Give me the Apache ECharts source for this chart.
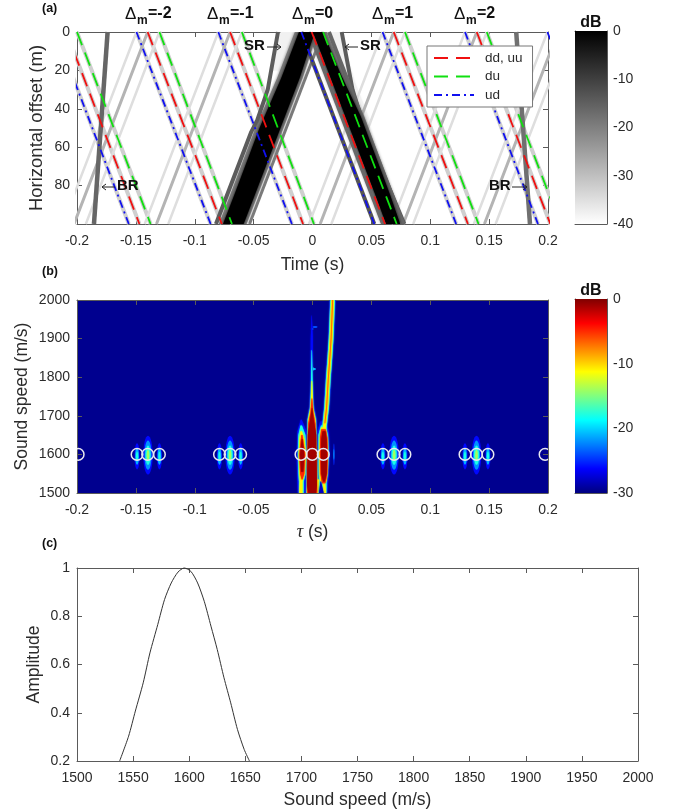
<!DOCTYPE html>
<html><head><meta charset="utf-8">
<style>html,body{margin:0;padding:0;background:#fff}#c{width:673px;height:810px}</style>
<script src="https://cdn.jsdelivr.net/npm/echarts@6/dist/echarts.min.js"></script>
</head><body><div id="c"></div>
<script>
// ---------- Panel (a): arrival lines, delay (s) at offset 0 m and at offset 100 m
const ddTop    = [-0.209,-0.14,-0.07,-0.0007,0.069,0.1395];
const ddBottom = [-0.147,-0.077,-0.008,0.0616,0.132,0.202];
const duTop    = [-0.2,-0.13,-0.06,0.009,0.0785,0.148];
const duBottom = [-0.1375,-0.0684,0.0012,0.0715,0.141,0.2105];
const udTop    = [-0.218,-0.1495,-0.08,-0.0095,0.0595,0.1295,0.1995];
const udBottom = [-0.156,-0.0865,-0.0175,0.0525,0.122,0.1915,0.262];
const fallGrayTop    = [-0.218,-0.209,-0.2,-0.1495,-0.14,-0.13,-0.08,-0.07,-0.06,0.0595,0.069,0.0785,0.1295,0.1395,0.148];
const fallGrayBottom = [-0.156,-0.147,-0.1375,-0.0865,-0.077,-0.0684,-0.0175,-0.008,0.0012,0.122,0.132,0.141,0.1915,0.202,0.2105];
const riseMidTop     = [-0.14,-0.07,0.069,0.1395,0.2085];
const riseMidBottom  = [-0.2025,-0.1325,0.0065,0.077,0.146];
const riseLightTop    = [-0.1495,-0.08,0.0595,0.1295,0.1995,-0.13,-0.06,0.0785,0.148,0.218];
const riseLightBottom = [-0.212,-0.1425,-0.003,0.067,0.137,-0.1925,-0.1225,0.016,0.0855,0.1555];
const centralGrayLines = [ // [top, bottom, colour, width]
  [0.009,-0.0535,'#7a7a7a',3],[-0.0095,0.0525,'#555555',4],[-0.003,0.0595,'#6a6a6a',3],[0.014,0.077,'#666666',4]
];
const srLeft  = [[-0.0293,0],[-0.038,30],[-0.047,46],[-0.052,52],[-0.082,100]];
const srRight = [[0.0248,0],[0.034,30],[0.041,44],[0.056,68],[0.078,100]];
const brLeft  = [[-0.174,0],[-0.1856,100]];
const brRight = [[0.173,0],[0.1847,100]];
// central bands: [offset, left tau, right tau]
const bandRising  = [[0,-0.0115,0.002],[24,-0.0265,-0.0109],[50,-0.045,-0.0272],[85,-0.0665,-0.0491],[100,-0.076,-0.0585]];
const bandFalling = [[0,0.0004,0.009],[22,0.0142,0.024],[44,0.0279,0.041],[85,0.0535,0.066],[100,0.0625,0.0745]];
const flankRising  = [[0,-0.015,0.0045],[24,-0.03,-0.0084],[50,-0.0485,-0.0247],[85,-0.07,-0.0466],[100,-0.0795,-0.056]];
const flankFalling = [[0,-0.0036,0.012],[22,0.0102,0.027],[44,0.0239,0.044],[85,0.0495,0.069],[100,0.0585,0.0775]];
const fringeLeft  = [[0,-0.027,-0.012],[20,-0.034,-0.019]];
const fringeRight = [[0,0.012,0.024],[26,0.026,0.036],[48,0.042,0.05]];

// ---------- Panel (b): dB contours, rows = [speed, left tau, right tau]
const leftLobe = [
  [-26,[[1690,-.0100,-.0092],[1660,-.0128,-.0050],[1600,-.0135,-.0042],[1540,-.0130,-.0050],[1500,-.0125,-.006]]],
  [-18,[[1675,-.0102,-.009],[1650,-.0120,-.0060],[1600,-.0125,-.0050],[1550,-.0120,-.0058],[1530,-.0115,-.0075],[1500,-.0115,-.0075]]],
  [-11,[[1660,-.0102,-.009],[1640,-.0112,-.0068],[1600,-.0118,-.0055],[1550,-.0112,-.0065],[1530,-.0108,-.0085],[1500,-.0112,-.0085]]],
  [-5,[[1650,-.0095,-.0085],[1600,-.0112,-.0062],[1550,-.0105,-.0070],[1535,-.0092,-.0085]]],
  [-1,[[1640,-.0092,-.0085],[1600,-.0105,-.0070],[1555,-.0097,-.0078]]]
];
const centreLobe = [
  [-26,[[1960,-.0008,-.0005],[1900,-.0015,.0003],[1800,-.0017,.0004],[1730,-.0025,.0012],[1690,-.0045,.0035],[1500,-.0060,.0055]]],
  [-18,[[1870,-.0008,-.0004],[1800,-.0012,0],[1760,-.0015,.0003],[1720,-.0022,.0008],[1690,-.0042,.0030],[1500,-.0052,.0048]]],
  [-11,[[1790,-.0008,-.0003],[1750,-.0012,.0001],[1720,-.0018,.0006],[1690,-.0036,.0025],[1500,-.0048,.0042]]],
  [-5,[[1745,-.0008,-.0002],[1710,-.0016,.0006],[1680,-.0036,.0024],[1500,-.0046,.0040]]],
  [-1,[[1720,-.0006,-.0002],[1690,-.0020,.0010],[1650,-.0040,.0032],[1520,-.0046,.0037],[1500,-.0035,.0030]]]
];
const rightLobe = [
  [-26,[[1685,.0065,.0115],[1660,.0042,.0140],[1600,.0040,.0146],[1550,.0045,.0138],[1500,.0045,.0125]]],
  [-18,[[1675,.0072,.0110],[1650,.005,.0132],[1600,.0050,.0138],[1550,.0052,.0130],[1530,.0055,.012],[1500,.0050,.0118]]],
  [-11,[[1670,.0072,.0112],[1640,.0060,.0128],[1600,.0057,.0133],[1550,.006,.0126],[1530,.0065,.0118]]],
  [-5,[[1665,.0075,.0112],[1645,.0065,.0125],[1600,.0063,.013],[1550,.0068,.0125],[1525,.008,.011]]],
  [-1,[[1660,.0085,.011],[1640,.0075,.012],[1600,.0072,.0124],[1550,.0075,.012],[1530,.009,.0105]]],
  [-11,[[1535,.0038,.0055],[1500,.0032,.0048]]],
  [-11,[[1530,.0085,.0105],[1500,.0095,.0115]]]
];
const rightStripe = [
  [-26,[[2000,.0147,.0195],[1900,.0134,.0182],[1853,.0124,.0172],[1800,.0111,.0159],[1723,.0096,.0144],[1681,.0082,.0128],[1650,.007,.012]]],
  [-18,[[2000,.0151,.0191],[1900,.0138,.0178],[1853,.0128,.0168],[1800,.0115,.0155],[1723,.01,.014],[1681,.0086,.0124],[1650,.0078,.0112]]],
  [-11,[[2000,.0159,.0183],[1900,.0146,.017],[1853,.0136,.016],[1800,.0123,.0147],[1723,.0108,.0132],[1681,.0093,.0117],[1650,.0085,.0105]]],
  [-7,[[2000,.0167,.0175],[1900,.0154,.0162],[1853,.0144,.0152],[1800,.0131,.0139],[1723,.0116,.0124],[1681,.0101,.0109]]]
];
const forkGap = [[-28,[[1530,.0068,.0072],[1500,.0055,.0095]]]];
const groupTau = [-0.1397,-0.07,0.0693,0.1393];
const sideLeftTau  = [-0.149,-0.079,0.0598,0.1295];
const sideRightTau = [-0.130,-0.061,0.0785,0.149];
const centreBlob = [[-26,.0040,50],[-22,.0030,38],[-18,.0022,25],[-14,.0012,14]]; // dB, tau radius, speed radius
const sideBlob   = [[-26,.0022,34],[-21,.0016,22],[-18,.0009,12]];
const extraBlobs = [[.0182,1600,.0006,28,-25],[.0182,1600,.0003,14,-20],[.0021,1930,.0022,2.5,-24],[-.0003,1925,.0012,2,-22],[.0012,1821,.0018,3,-21],[.0,1822,.001,6,-18]];
const circleTau = [-0.199,-0.149,-0.14,-0.13,-0.079,-0.07,-0.061,-0.0098,-0.0002,0.0092,0.0598,0.0693,0.0785,0.1295,0.1393,0.149,0.1975];
const circleSpeed = 1600;

// ---------- Panel (c)
const ampSpeed = [1538,1546,1552,1559,1565,1572,1578,1584,1590,1595.5,1601.5,1607.5,1613.4,1619.4,1625,1631,1637,1643,1649,1653.7];
const ampValue = [.2,.303,.407,.524,.648,.766,.869,.938,.983,1,.986,.938,.862,.759,.662,.545,.441,.331,.248,.2];

// ---------- Colour bars
const grayRange = [-40,0];
const jetRange = [-30,0];

const FONT = '"Liberation Sans",Arial,sans-serif';
const TXT = '#2b2b2b', AX = '#5a5a5a';

function clamp(v){return Math.max(0,Math.min(1,v));}
function jetRGB(v){return [clamp(1.5-Math.abs(4*v-3)),clamp(1.5-Math.abs(4*v-2)),clamp(1.5-Math.abs(4*v-1))].map(c=>Math.round(c*255));}
function jet(db){const c=jetRGB((db+30)/30);return 'rgb('+c.join(',')+')';}
function segs(t,b){const out=[];t.forEach((v,i)=>{out.push([v,0],[b[i],100],[null,null]);});return out;}
const plain=v=>String(v);

// ---------- Axes
const grids=[], xAxes=[], yAxes=[];
function tickLine(){return {show:true,inside:true,length:5,lineStyle:{color:AX,width:1}};}
function addPanel(g,x,y){
  const gi=grids.length; grids.push(g);
  const base={gridIndex:gi,nameMoveOverlap:false,splitLine:{show:false},axisLine:{show:true,onZero:false,lineStyle:{color:AX,width:1}},axisTick:tickLine()};
  const ix=xAxes.length, iy=yAxes.length;
  xAxes.push(Object.assign({},base,{type:'value',position:'bottom',
    axisLabel:Object.assign({color:TXT,fontSize:14,fontFamily:FONT,margin:10,hideOverlap:false,showMinLabel:true,showMaxLabel:true,formatter:plain},x.axisLabel||{})},x.opt));
  yAxes.push(Object.assign({},base,{type:'value',position:'left',
    axisLabel:Object.assign({color:TXT,fontSize:14,fontFamily:FONT,margin:7,hideOverlap:false,showMinLabel:true,showMaxLabel:true,formatter:plain},y.axisLabel||{})},y.opt));
  xAxes.push(Object.assign({},base,{type:'value',position:'top',axisLabel:{show:false},name:''},x.opt,{name:''}));
  yAxes.push(Object.assign({},base,{type:'value',position:'right',axisLabel:{show:false},name:''},y.opt,{name:''}));
  return {ix,iy};
}
const nameStyle={color:TXT,fontSize:17.5,fontFamily:FONT};
const A=addPanel({left:77,top:32,width:471,height:192},
  {opt:{min:-0.2,max:0.2,interval:0.05,name:'Time (s)',nameLocation:'middle',nameGap:32,nameTextStyle:nameStyle}},
  {opt:{min:0,max:100,interval:20,inverse:true,name:'Horizontal offset (m)',nameLocation:'middle',nameGap:31,nameTextStyle:Object.assign({},nameStyle,{fontSize:18.5})},axisLabel:{showMaxLabel:false}});
const B=addPanel({left:77,top:300,width:471,height:193,show:true,backgroundColor:'#00008f',borderWidth:0},
  {opt:{min:-0.2,max:0.2,interval:0.05,name:'{t|τ} (s)',nameLocation:'middle',nameGap:30,
    nameTextStyle:Object.assign({},nameStyle,{rich:{t:{fontFamily:'"Liberation Serif",serif',fontStyle:'italic',fontSize:18,color:TXT}}})}},
  {opt:{min:1500,max:2000,interval:100,name:'Sound speed (m/s)',nameLocation:'middle',nameGap:46,nameTextStyle:nameStyle}});
const C=addPanel({left:77,top:568,width:561,height:194},
  {opt:{min:1500,max:2000,interval:50,name:'Sound speed (m/s)',nameLocation:'middle',nameGap:30,nameTextStyle:nameStyle}},
  {opt:{min:0.2,max:1,interval:0.2,name:'Amplitude',nameLocation:'middle',nameGap:34,nameTextStyle:nameStyle}});
function cbar(top,h,range,step){
  const gi=grids.length; grids.push({left:575,top:top,width:32,height:h});
  const ix=xAxes.length, iy=yAxes.length;
  const line={show:true,onZero:false,lineStyle:{color:AX,width:1}};
  xAxes.push({gridIndex:gi,type:'value',min:0,max:1,position:'bottom',axisLine:line,axisTick:{show:false},axisLabel:{show:false},splitLine:{show:false}});
  xAxes.push({gridIndex:gi,type:'value',min:0,max:1,position:'top',axisLine:line,axisTick:{show:false},axisLabel:{show:false},splitLine:{show:false}});
  yAxes.push({gridIndex:gi,type:'value',min:range[0],max:range[1],interval:step,position:'right',axisLine:line,
    axisTick:{show:true,inside:true,length:3,lineStyle:{color:AX}},splitLine:{show:false},
    axisLabel:{color:TXT,fontSize:14,fontFamily:FONT,margin:6,hideOverlap:false,showMinLabel:true,showMaxLabel:true}});
  yAxes.push({gridIndex:gi,type:'value',min:range[0],max:range[1],position:'left',axisLine:line,axisTick:{show:false},axisLabel:{show:false},splitLine:{show:false}});
  return {ix,iy};
}
const CA=cbar(31,193,grayRange,10);
const CB=cbar(299,194,jetRange,10);

// ---------- Series helpers
function grayLine(data,color,width,z){
  return {type:'line',xAxisIndex:A.ix,yAxisIndex:A.iy,data:data,symbol:'none',silent:true,animation:false,z:z||2,
    connectNulls:false,lineStyle:{color:color,width:width,cap:'butt'}};
}
function band(rows,fill,blur,z){
  const pts=rows.map(r=>[r[1],r[0]]).concat(rows.slice().reverse().map(r=>[r[2],r[0]]));
  return {type:'custom',xAxisIndex:A.ix,yAxisIndex:A.iy,clip:true,animation:false,silent:true,z:z,
    data:[[rows[0][1],rows[0][0]]],encode:{x:0,y:1},
    renderItem:function(p,api){
      return {type:'polygon',shape:{points:pts.map(q=>api.coord(q))},style:{fill:fill,shadowBlur:blur,shadowColor:fill}};
    }};
}

// Panel (b) layers
const polygons=[];
[leftLobe,centreLobe,rightLobe,rightStripe].forEach(f=>f.forEach(l=>polygons.push(l)));
polygons.sort((a,b)=>a[0]-b[0]);
forkGap.forEach(l=>polygons.push(l));
const ellipses=[];
groupTau.forEach(t=>centreBlob.forEach(b=>ellipses.push([t,1598,b[1],b[2],b[0]])));
sideLeftTau.concat(sideRightTau).forEach(t=>sideBlob.forEach(b=>ellipses.push([t,1595,b[1],b[2],b[0]])));
extraBlobs.forEach(b=>ellipses.push(b));

const series=[
  grayLine(segs(fallGrayTop,fallGrayBottom),'#cfcfcf',4,1),
  grayLine(segs(riseLightTop,riseLightBottom),'#dedede',2.5,1),
  grayLine(segs(riseMidTop,riseMidBottom),'#b4b4b4',3,1),
  grayLine(brLeft,'#666666',4.5,2),
  grayLine(brRight,'#707070',4.5,2),
  band(fringeLeft,'#f1f1f1',2,1),
  band(fringeRight,'#f1f1f1',2,1),
  grayLine(srLeft,'#5c5c5c',4,2),
  grayLine(srRight,'#5c5c5c',4,2),
  band(flankRising,'#777777',3,2),
  band(flankFalling,'#777777',3,2),
  band(bandRising,'#000000',3,3),
  band(bandFalling,'#000000',3,3)
];
centralGrayLines.forEach(c=>series.push(grayLine([[c[0],0],[c[1],100]],c[2],c[3],2)));

function colourLine(name,data,color,dash){
  return {type:'line',name:name,xAxisIndex:A.ix,yAxisIndex:A.iy,data:data,symbol:'none',showSymbol:false,silent:true,animation:false,z:5,
    connectNulls:false,lineStyle:{color:color,width:1.8,type:dash,cap:'butt'},itemStyle:{color:color}};
}
series.push(colourLine('dd, uu',segs(ddTop,ddBottom),'#f01010',[14,8]));
series.push(colourLine('du',segs(duTop,duBottom),'#10e010',[14,8]));
series.push(colourLine('ud',segs(udTop,udBottom),'#1010f0',[8,4,2,4]));

// panel (b) contours
series.push({type:'custom',xAxisIndex:B.ix,yAxisIndex:B.iy,clip:true,animation:false,silent:true,z:2,
  data:ellipses.map(e=>[e[0],e[1]]),encode:{x:0,y:1},
  renderItem:function(p,api){
    const e=ellipses[p.dataIndex],c=api.coord([e[0],e[1]]),q=api.coord([e[0]+e[2],e[1]+e[3]]);
    return {type:'ellipse',shape:{cx:c[0],cy:c[1],rx:Math.abs(q[0]-c[0]),ry:Math.abs(q[1]-c[1])},style:{fill:jet(e[4])}};
  }});
series.push({type:'custom',xAxisIndex:B.ix,yAxisIndex:B.iy,clip:true,animation:false,silent:true,z:3,
  data:polygons.map(l=>[l[1][0][1],l[1][0][0]]),encode:{x:0,y:1},
  renderItem:function(p,api){
    const l=polygons[p.dataIndex],rows=l[1];
    const pts=rows.map(r=>[r[1],r[0]]).concat(rows.slice().reverse().map(r=>[r[2],r[0]]));
    const col=jet(l[0]);
    return {type:'polygon',shape:{points:pts.map(q=>api.coord(q))},style:{fill:col,shadowBlur:1.5,shadowColor:col}};
  }});
series.push({type:'custom',xAxisIndex:B.ix,yAxisIndex:B.iy,clip:true,animation:false,silent:true,z:4,
  data:circleTau.map(t=>[t,circleSpeed]),encode:{x:0,y:1},
  renderItem:function(p,api){
    const c=api.coord([api.value(0),api.value(1)]);
    return {type:'circle',shape:{cx:c[0],cy:c[1],r:5.8},style:{fill:'none',stroke:'#e8e8f0',lineWidth:1.5}};
  }});

// panel (c)
series.push({type:'line',xAxisIndex:C.ix,yAxisIndex:C.iy,data:ampSpeed.map((s,i)=>[s,ampValue[i]]),symbol:'none',silent:true,animation:false,smooth:0.25,clip:false,
  lineStyle:{color:'#333333',width:1}});

// colour bars
function barSeries(ax,range,stops){
  return {type:'custom',xAxisIndex:ax.ix,yAxisIndex:ax.iy,clip:true,animation:false,silent:true,z:1,
    data:[[0,range[0]]],encode:{x:0,y:1},
    renderItem:function(p,api){
      const a=api.coord([0,range[1]]),b=api.coord([1,range[0]]);
      return {type:'rect',shape:{x:a[0],y:a[1],width:b[0]-a[0],height:b[1]-a[1]},
        style:{fill:new echarts.graphic.LinearGradient(0,0,0,1,stops)}};
    }};
}
const jetStops=[];
for(let i=0;i<=32;i++){const v=1-i/32;jetStops.push({offset:i/32,color:'rgb('+jetRGB(v).join(',')+')'});}
series.push(barSeries(CA,grayRange,[{offset:0,color:'#000000'},{offset:1,color:'#ffffff'}]));
series.push(barSeries(CB,jetRange,jetStops));

// ---------- Annotations
function txt(s,x,y,size,opt){
  return {type:'text',x:x,y:y,z:20,silent:true,style:Object.assign({text:s,fill:'#111',fontFamily:FONT,fontSize:size,fontWeight:'bold',textAlign:'left',textVerticalAlign:'middle'},opt||{})};
}
function arrow(x1,x2,y){
  const d=x2>x1?-4:4;
  return [{type:'line',z:20,silent:true,shape:{x1:x1,y1:y,x2:x2,y2:y},style:{stroke:'#222',lineWidth:1}},
          {type:'polyline',z:20,silent:true,shape:{points:[[x2+d,y-3],[x2,y],[x2+d,y+3]]},style:{stroke:'#222',lineWidth:1,fill:'none'}}];
}
const graphics=[
  txt('(a)',42,9,12.5),txt('(b)',42,272,12.5),txt('(c)',42,544,12.5),
  txt('dB',591,23,16,{textAlign:'center'}),txt('dB',591,291,16,{textAlign:'center'}),
  txt('SR',244,46,15),txt('SR',360,46,15),txt('BR',117,186,15),txt('BR',489,186,15)
].concat(arrow(267,281,47),arrow(358,345,47),arrow(115,102,187),arrow(512,527,187));
[['-2',125],['-1',207],['0',292],['1',372],['2',454]].forEach(d=>{
  graphics.push(txt('Δ',d[1],14,17,{fontWeight:'normal'}));
  graphics.push(txt('m',d[1]+12,21,12));
  graphics.push(txt('='+d[0],d[1]+23,14,16));
});

const chart=echarts.init(document.getElementById('c'),null,{renderer:'canvas',width:673,height:810});
chart.setOption({
  animation:false,backgroundColor:'#fff',textStyle:{fontFamily:FONT},
  grid:grids,xAxis:xAxes,yAxis:yAxes,series:series,
  legend:{show:true,orient:'vertical',left:427,top:46,z:10,backgroundColor:'#fff',borderColor:'#777',borderWidth:1,
    itemStyle:{opacity:0},
    padding:[5,10,5,6],itemWidth:40,itemHeight:14,itemGap:4.5,data:['dd, uu','du','ud'],selectedMode:false,
    textStyle:{color:TXT,fontSize:13.5,fontFamily:FONT,padding:[0,0,0,6]}},
  graphic:{elements:graphics}
});
</script></body></html>
